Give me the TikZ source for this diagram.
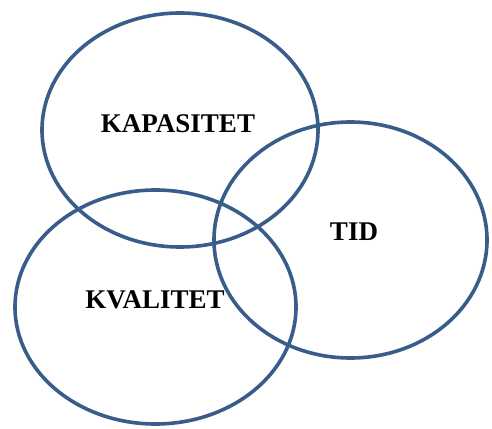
\documentclass[tikz,border=0pt]{standalone}
\usepackage{fontspec}
\setmainfont{Liberation Serif}
\definecolor{ringblue}{RGB}{56,93,138}
\begin{document}
\begin{tikzpicture}[x=1pt,y=-1pt,
  ring/.style={draw=ringblue,line width=3.6pt},
  lbl/.style={font=\fontsize{27}{30}\selectfont\bfseries,text=black,inner sep=0pt}]
\useasboundingbox[fill=white] (0,0) rectangle (492,428);
\draw[ring] (180,130) ellipse [x radius=138, y radius=117];
\draw[ring] (155.5,307) ellipse [x radius=140.5, y radius=117];
\draw[ring] (350.5,240) ellipse [x radius=136.5, y radius=118];
\node[lbl] (kap) at (178,124) {KAPASITET};
\node[lbl] (tid) at (354,232) {TID};
\node[lbl] (kval) at (155,300) {KVALITET};
\end{tikzpicture}
\end{document}
